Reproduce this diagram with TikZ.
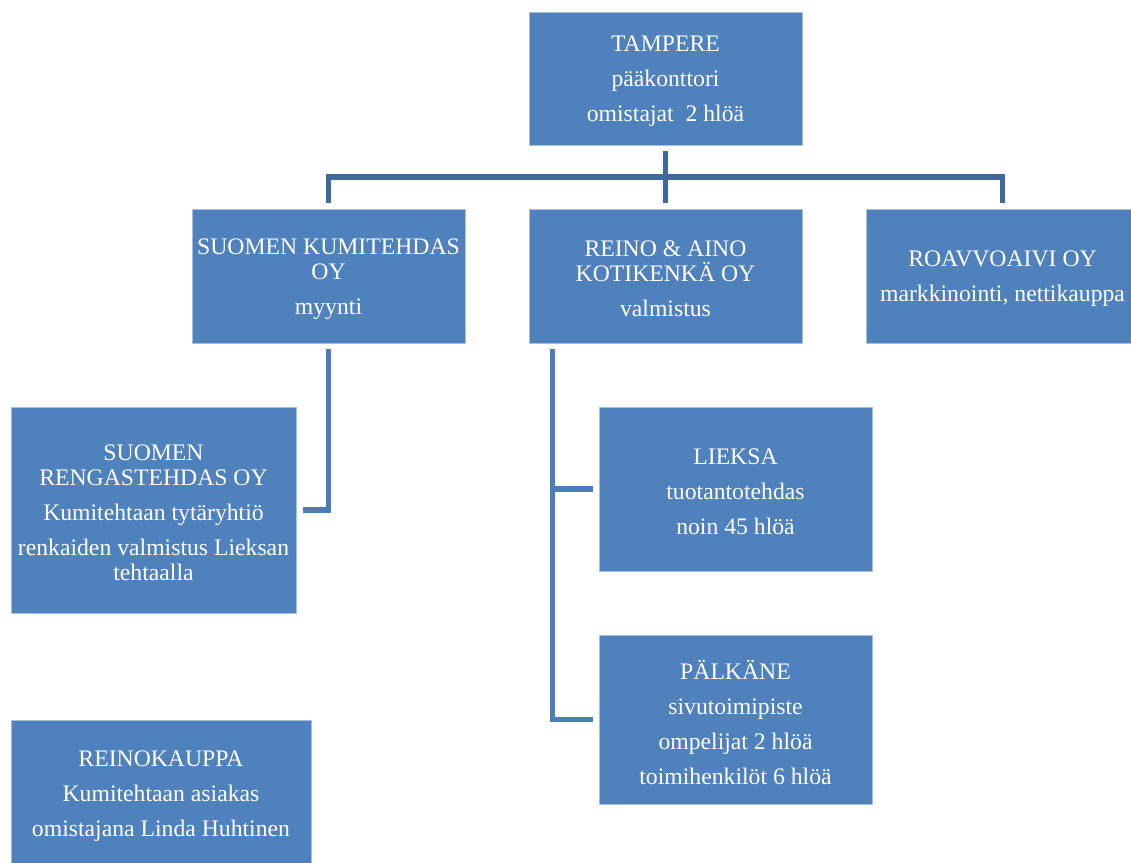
\documentclass[tikz,border=0pt]{standalone}
\usepackage{fontspec}
\setmainfont{Liberation Serif}
\usetikzlibrary{calc}
\definecolor{boxblue}{HTML}{4F81BD}
\definecolor{boxedge}{HTML}{A7BEDE}
\definecolor{topline}{HTML}{3E6A9B}
\definecolor{subline}{HTML}{4A7DBA}
\tikzset{
  orgbox/.style={rectangle, fill=boxblue, draw=boxedge, line width=0.8pt,
    minimum width=273pt, minimum height=134pt},
  boxtext/.style={text=white, align=center, font=\fontsize{23.7}{25}\selectfont,
    inner sep=0pt, yshift=-3pt},
  topconn/.style={draw=topline, line width=5.5pt},
  subconn/.style={draw=subline, line width=5.5pt},
}
\begin{document}
\begin{tikzpicture}[x=1pt,y=-1pt]
\useasboundingbox (0,0) rectangle (1131,862);
\clip (0,0) rectangle (1131,862);

\node[orgbox, minimum height=133pt] (tam) at (665.5,78.5) {};
\node[boxtext] (tamt) at (tam.center)
  {TAMPERE\\[10pt]pääkonttori\\[10pt]omistajat\ \ 2 hlöä};
\node[orgbox] (kumi) at (328.5,276) {};
\node[boxtext] (kumit) at (kumi.center)
  {SUOMEN KUMITEHDAS\\OY\\[10pt]myynti};
\node[orgbox] (reino) at (665.5,276) {};
\node[boxtext] (reinot) at (reino.center)
  {REINO \& AINO\\KOTIKENKÄ OY\\[10pt]valmistus};
\node[orgbox] (roav) at (1002.5,276) {};
\node[boxtext] (roavt) at (roav.center)
  {ROAVVOAIVI OY\\[10pt]markkinointi, nettikauppa};
\node[orgbox, minimum width=285pt, minimum height=206pt] (rengas) at (153.5,510) {};
\node[boxtext] (rengast) at (rengas.center)
  {SUOMEN\\RENGASTEHDAS OY\\[10pt]Kumitehtaan tytäryhtiö\\[10pt]renkaiden valmistus Lieksan\\tehtaalla};
\node[orgbox, minimum height=164pt] (lieksa) at (735.5,489) {};
\node[boxtext] (lieksat) at (lieksa.center)
  {LIEKSA\\[10pt]tuotantotehdas\\[10pt]noin 45 hlöä};
\node[orgbox, minimum height=169pt] (palk) at (735.5,719.5) {};
\node[boxtext] (palkt) at (palk.center)
  {PÄLKÄNE\\[10pt]sivutoimipiste\\[10pt]ompelijat 2 hlöä\\[10pt]toimihenkilöt 6 hlöä};
\node[orgbox, minimum width=300pt, minimum height=146pt] (kauppa) at (161,793) {};
\node[boxtext] (kauppat) at (kauppa.center)
  {REINOKAUPPA\\[10pt]Kumitehtaan asiakas\\[10pt]omistajana Linda Huhtinen};

% top level connectors
\coordinate (hbar) at ($(tam.south)!0.5!(reino.north)$);
\draw[topconn] ([yshift=-6pt]tam.south) -- ([yshift=6pt]reino.north);
\draw[topconn] ([yshift=6pt]kumi.north) |- (hbar) -| ([yshift=6pt]roav.north);

% Kumitehdas -> Rengastehdas
\draw[subconn] ([yshift=-6pt]kumi.south) |- ([xshift=7pt]rengas.east);

% Reino & Aino -> Lieksa, Pälkäne
\coordinate (rtrunk) at ([xshift=24pt,yshift=-6pt]reino.south west);
\draw[subconn] (rtrunk) |- ([xshift=-6pt]palk.west);
\draw[subconn] (rtrunk |- lieksa.west) -- ([xshift=-6pt]lieksa.west);
\end{tikzpicture}
\end{document}
